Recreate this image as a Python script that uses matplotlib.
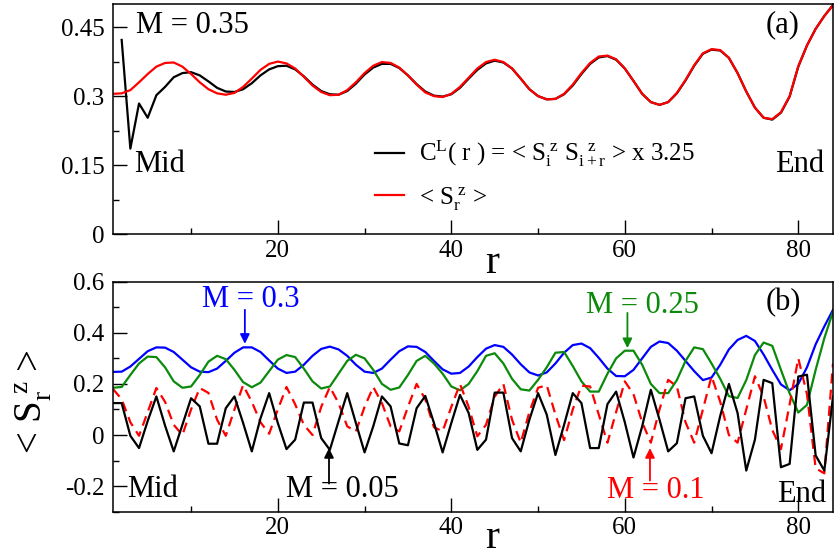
import matplotlib
matplotlib.use("Agg")
import matplotlib.pyplot as plt
from matplotlib.lines import Line2D
from matplotlib.ticker import MultipleLocator, FuncFormatter

plt.rcParams['font.family'] = ['Liberation Serif', 'DejaVu Serif']
plt.rcParams['mathtext.fontset'] = 'custom'
plt.rcParams['mathtext.rm'] = 'Liberation Serif'
plt.rcParams['mathtext.it'] = 'Liberation Serif:italic'
plt.rcParams['axes.unicode_minus'] = False

# ---------- panel (a): M = 0.35 ----------
r_sz = list(range(1, 85))
sz_035 = [0.305, 0.306, 0.313, 0.330, 0.348, 0.364, 0.372, 0.373, 0.364, 0.348,
          0.330, 0.315, 0.306, 0.303, 0.307, 0.320, 0.338, 0.357, 0.370, 0.375,
          0.371, 0.360, 0.342, 0.323, 0.309, 0.302, 0.303, 0.313, 0.330, 0.350,
          0.366, 0.374, 0.372, 0.362, 0.345, 0.325, 0.308, 0.300, 0.298, 0.305,
          0.320, 0.340, 0.360, 0.374, 0.379, 0.374, 0.360, 0.338, 0.315, 0.300,
          0.293, 0.294, 0.305, 0.325, 0.350, 0.372, 0.386, 0.388, 0.380, 0.360,
          0.333, 0.305, 0.287, 0.281, 0.287, 0.307, 0.335, 0.367, 0.393, 0.402,
          0.400, 0.383, 0.350, 0.310, 0.275, 0.253, 0.250, 0.265, 0.300, 0.365,
          0.410, 0.446, 0.474, 0.497]

r_cl = list(range(2, 85))
cl_035 = [0.422, 0.186, 0.284, 0.253, 0.302, 0.320, 0.341, 0.350, 0.352,
          0.345, 0.332, 0.318, 0.310, 0.309, 0.315, 0.328, 0.345, 0.358, 0.365,
          0.366, 0.358, 0.343, 0.325, 0.311, 0.304, 0.303, 0.311, 0.327, 0.347,
          0.362, 0.370, 0.370, 0.361, 0.345, 0.326, 0.310, 0.301, 0.299, 0.304,
          0.318, 0.338, 0.357, 0.371, 0.377, 0.373, 0.360, 0.338, 0.315, 0.300,
          0.293, 0.294, 0.304, 0.323, 0.348, 0.370, 0.384, 0.387, 0.379, 0.360,
          0.333, 0.305, 0.287, 0.281, 0.287, 0.306, 0.334, 0.366, 0.392, 0.401,
          0.399, 0.383, 0.350, 0.310, 0.275, 0.253, 0.249, 0.264, 0.299, 0.364,
          0.410, 0.446, 0.474, 0.498]

# ---------- panel (b): <S^z_r> for several M ----------
r_b = list(range(1, 85))
sz_030 = [0.247, 0.248, 0.268, 0.298, 0.328, 0.343, 0.342, 0.325, 0.295, 0.265,
          0.248, 0.246, 0.260, 0.290, 0.322, 0.343, 0.343, 0.325, 0.292, 0.260,
          0.243, 0.248, 0.275, 0.310, 0.337, 0.346, 0.335, 0.310, 0.275, 0.248,
          0.243, 0.260, 0.295, 0.328, 0.347, 0.345, 0.325, 0.290, 0.257, 0.240,
          0.243, 0.268, 0.305, 0.338, 0.352, 0.345, 0.315, 0.277, 0.245, 0.233,
          0.245, 0.280, 0.322, 0.352, 0.358, 0.340, 0.302, 0.260, 0.231, 0.230,
          0.255, 0.300, 0.345, 0.366, 0.360, 0.330, 0.290, 0.250, 0.215, 0.225,
          0.275, 0.335, 0.372, 0.388, 0.368, 0.315, 0.255, 0.198, 0.175, 0.200,
          0.265, 0.355, 0.425, 0.490]
sz_025 = [0.185, 0.188, 0.235, 0.280, 0.307, 0.305, 0.265, 0.210, 0.185, 0.190,
          0.235, 0.287, 0.310, 0.297, 0.255, 0.207, 0.187, 0.205, 0.250, 0.295,
          0.313, 0.305, 0.260, 0.210, 0.182, 0.190, 0.240, 0.290, 0.314, 0.300,
          0.255, 0.200, 0.177, 0.186, 0.235, 0.290, 0.310, 0.280, 0.240, 0.190,
          0.175, 0.200, 0.250, 0.310, 0.320, 0.280, 0.220, 0.179, 0.174, 0.216,
          0.265, 0.322, 0.325, 0.270, 0.210, 0.170, 0.170, 0.240, 0.300, 0.330,
          0.330, 0.275, 0.200, 0.164, 0.164, 0.215, 0.290, 0.343, 0.336, 0.280,
          0.220, 0.152, 0.145, 0.215, 0.313, 0.362, 0.349, 0.255, 0.163, 0.088,
          0.118, 0.255, 0.379, 0.483]
sz_010 = [0.180, 0.140, 0.050, -0.003, 0.090, 0.184, 0.130, 0.040, 0.000, 0.100,
          0.184, 0.165, 0.060, -0.003, 0.100, 0.195, 0.130, 0.050, 0.005, 0.100,
          0.188, 0.120, 0.040, 0.000, 0.110, 0.188, 0.125, 0.034, 0.014, 0.110,
          0.188, 0.125, 0.034, 0.014, 0.110, 0.200, 0.140, 0.030, 0.015, 0.110,
          0.200, 0.110, -0.005, 0.040, 0.150, 0.200, 0.060, -0.030, 0.090, 0.185,
          0.195, 0.080, -0.020, 0.100, 0.193, 0.190, 0.080, -0.030, 0.090, 0.210,
          0.160, 0.050, -0.030, 0.100, 0.216, 0.190, 0.050, -0.030, 0.100, 0.230,
          0.130, 0.000, -0.030, 0.100, 0.230, 0.150, 0.020, -0.055, 0.120, 0.300,
          0.160, -0.130, -0.150, 0.280]
sz_005 = [0.125, 0.125, -0.003, -0.051, 0.055, 0.151, 0.037, -0.064, 0.040, 0.144,
          0.112, -0.034, -0.034, 0.105, 0.151, 0.047, -0.064, 0.065, 0.164, 0.047,
          -0.055, -0.018, 0.127, 0.127, -0.012, -0.058, 0.054, 0.164, 0.047, -0.068,
          0.034, 0.151, 0.112, -0.033, -0.040, 0.105, 0.153, 0.047, -0.068, 0.047,
          0.157, 0.086, -0.058, -0.018, 0.166, 0.166, -0.012, -0.064, 0.060, 0.164,
          0.080, -0.078, 0.040, 0.164, 0.125, -0.051, -0.051, 0.121, 0.170, 0.050,
          -0.088, 0.034, 0.177, 0.060, -0.064, -0.032, 0.144, 0.151, -0.003, -0.071,
          0.075, 0.200, 0.086, -0.139, -0.018, 0.216, 0.203, -0.126, -0.113, 0.229,
          0.236, -0.080, -0.139, 0.150]

GREEN = '#0b8a0b'
TICK_FS = 18
NOTE_FS = 22

fig = plt.figure(figsize=(8.35, 5.56), dpi=100)
W, H = 835.0, 556.0
ax1 = fig.add_axes([113 / W, 1 - 234.3 / H, 720 / W, 230.3 / H])
ax2 = fig.add_axes([113 / W, 1 - 511.7 / H, 720 / W, 230.0 / H])


def style_axes(ax, ymin, ymax, ymaj):
    ax.set_xlim(1, 84)
    ax.set_ylim(ymin, ymax)
    ax.xaxis.set_major_locator(MultipleLocator(20))
    ax.xaxis.set_minor_locator(MultipleLocator(10))
    ax.yaxis.set_major_locator(MultipleLocator(ymaj))
    ax.yaxis.set_minor_locator(MultipleLocator(ymaj / 2))
    ax.yaxis.set_major_formatter(FuncFormatter(lambda v, p: '%g' % round(v, 4)))
    ax.tick_params(which='both', direction='in', top=False, right=False,
                   labelsize=TICK_FS, width=1.0)
    ax.tick_params(which='major', length=10)
    ax.tick_params(axis='x', which='major', pad=4)
    ax.tick_params(axis='y', which='major', pad=6)
    ax.tick_params(which='minor', length=4.5)
    for sp in ax.spines.values():
        sp.set_linewidth(1.1)
    ax.set_xlabel('r', fontsize=30)
    ax.xaxis.label.set_va('baseline')


# ---- (a) ----
style_axes(ax1, 0, 0.5, 0.15)
ax1.xaxis.set_label_coords(0.526, -0.168)
ax1.plot(r_cl, cl_035, color='black', lw=1.6)
ax1.plot(r_sz, sz_035, color='red', lw=1.6)

ax1.text(3.6, 0.438, 'M = 0.35', fontsize=NOTE_FS, va='baseline')
ax1.text(3.4, 0.1355, 'Mid', fontsize=NOTE_FS, va='baseline')
ax1.text(77.3, 0.1355, 'End', fontsize=NOTE_FS, va='baseline')
ax1.text(76.2, 0.438, '(a)', fontsize=NOTE_FS, va='baseline')

handles = [Line2D([], [], color='black', lw=1.6), Line2D([], [], color='red', lw=1.6)]
labels = [r'C$^{\rm L}$( r ) = < S$_{\rm i}^{\ \rm z}$ S$_{\rm i+r}^{\ \ \rm z}$ > x 3.25',
          r'< S$_{\rm r}^{\ \rm z}$ >']
ax1.legend(handles, labels, loc='center left', bbox_to_anchor=(0.364, 0.255),
           frameon=False, fontsize=18, handlelength=1.15, handletextpad=0.6,
           borderpad=0, borderaxespad=0, labelspacing=0.62)

# ---- (b) ----
style_axes(ax2, -0.3, 0.6, 0.2)
ax2.xaxis.set_label_coords(0.526, -0.158)
ax2.plot(r_b, sz_030, color='blue', lw=1.6)
ax2.plot(r_b, sz_025, color=GREEN, lw=1.6)
ax2.plot(r_b, sz_010, color='red', lw=1.6, linestyle=(0, (4.5, 2.8)))
ax2.plot(r_b, sz_005, color='black', lw=1.6)

ax2.set_ylabel(r'< S$_{\rm r}^{\ \rm z}$ >', fontsize=28)
ax2.yaxis.label.set_va('center')
ax2.yaxis.set_label_coords(-0.11, 0.478)

arrow = dict(arrowstyle='-|>', lw=1.3, mutation_scale=14, shrinkA=0, shrinkB=0)
ax2.text(11.3, 0.502, 'M = 0.3', color='blue', fontsize=NOTE_FS, va='baseline')
ax2.annotate('', xy=(16.2, 0.357), xytext=(16.2, 0.49), arrowprops=dict(arrow, color='blue'))
ax2.text(55.5, 0.479, 'M = 0.25', color=GREEN, fontsize=NOTE_FS, va='baseline')
ax2.annotate('', xy=(60.3, 0.34), xytext=(60.3, 0.478), arrowprops=dict(arrow, color=GREEN))
ax2.text(21.0, -0.242, 'M = 0.05', color='black', fontsize=NOTE_FS, va='baseline')
ax2.annotate('', xy=(25.9, -0.051), xytext=(25.9, -0.19), arrowprops=dict(arrow, color='black'))
ax2.text(58.0, -0.246, 'M = 0.1', color='red', fontsize=NOTE_FS, va='baseline')
ax2.annotate('', xy=(62.9, -0.051), xytext=(62.9, -0.178), arrowprops=dict(arrow, color='red'))

ax2.text(2.6, -0.242, 'Mid', fontsize=NOTE_FS, va='baseline')
ax2.text(77.6, -0.263, 'End', fontsize=NOTE_FS, va='baseline')
ax2.text(76.2, 0.49, '(b)', fontsize=NOTE_FS, va='baseline')

fig.savefig('out.png', dpi=100)
